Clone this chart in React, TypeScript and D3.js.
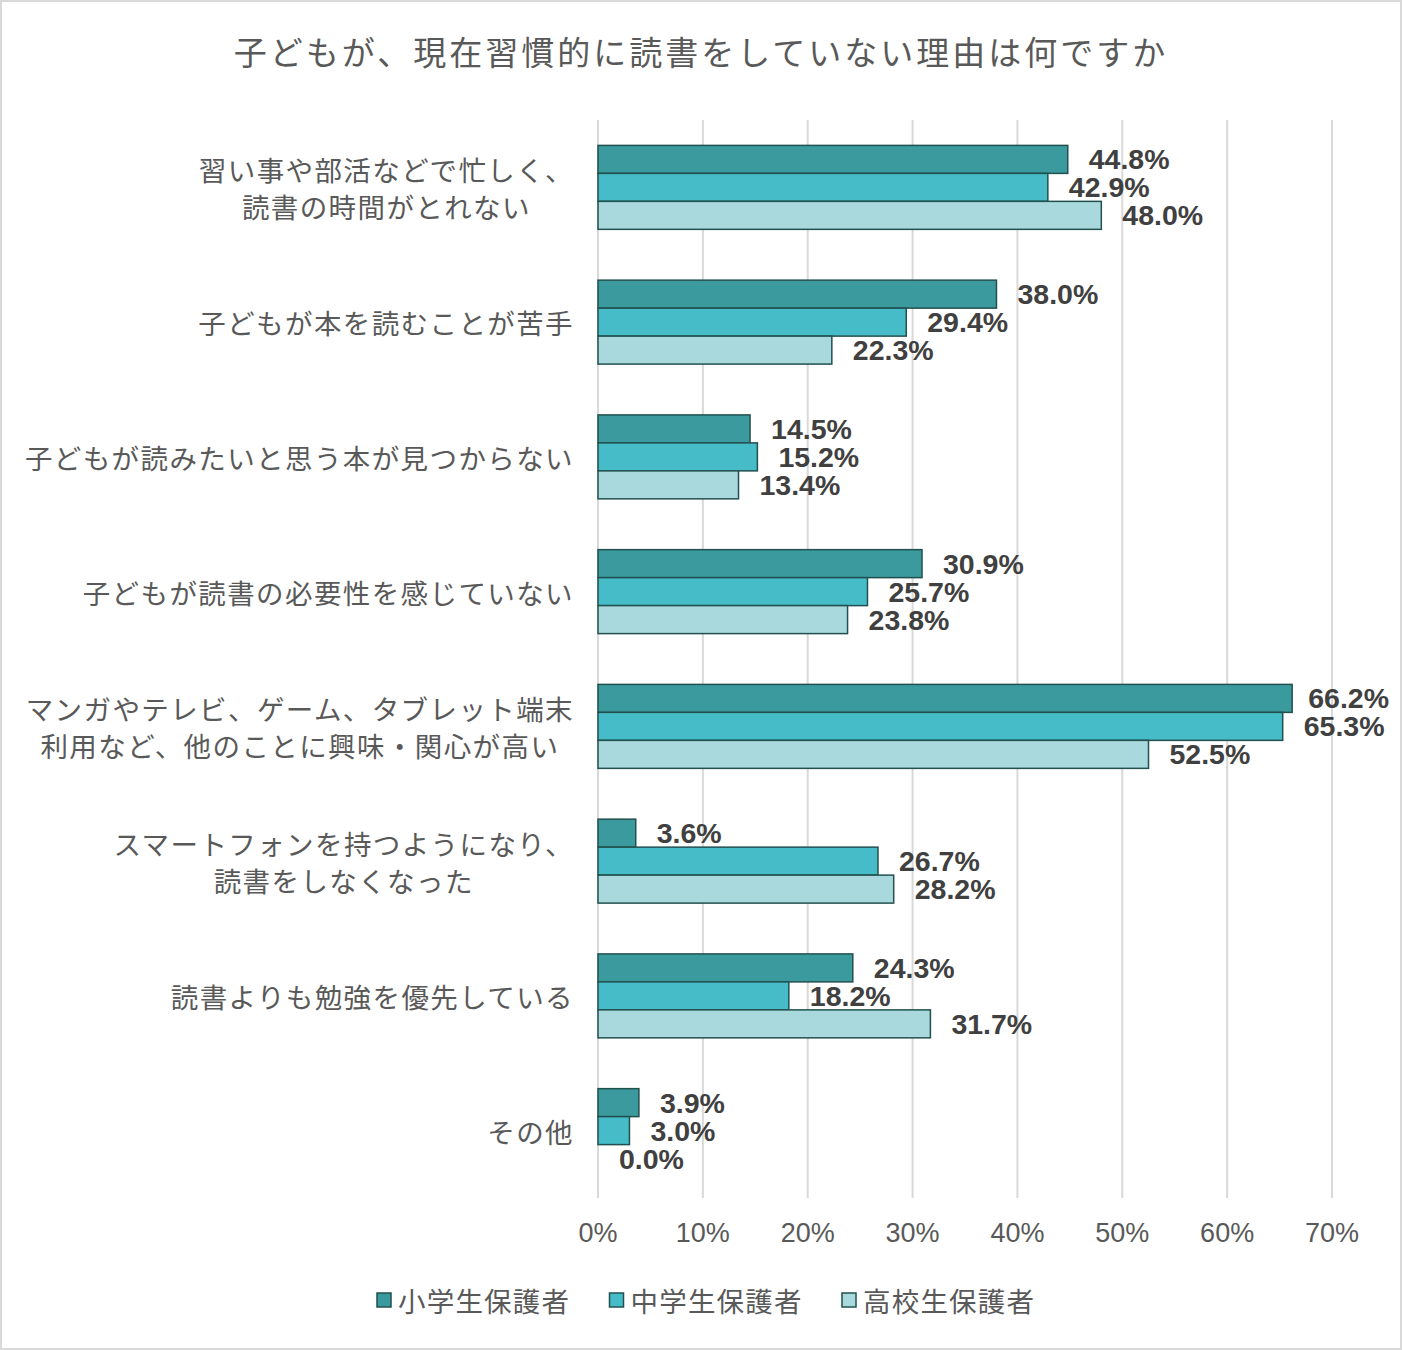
import { useEffect, useRef } from 'react';
import * as d3 from 'd3';

const title = '子どもが、現在習慣的に読書をしていない理由は何ですか';

const categories = [
  '習い事や部活などで忙しく、\n読書の時間がとれない',
  '子どもが本を読むことが苦手',
  '子どもが読みたいと思う本が見つからない',
  '子どもが読書の必要性を感じていない',
  'マンガやテレビ、ゲーム、タブレット端末\n利用など、他のことに興味・関心が高い',
  'スマートフォンを持つようになり、\n読書をしなくなった',
  '読書よりも勉強を優先している',
  'その他',
];

const seriesNames = ['小学生保護者', '中学生保護者', '高校生保護者'];
const elementary = [44.8, 38.0, 14.5, 30.9, 66.2, 3.6, 24.3, 3.9];
const juniorHigh = [42.9, 29.4, 15.2, 25.7, 65.3, 26.7, 18.2, 3.0];
const highSchool = [48.0, 22.3, 13.4, 23.8, 52.5, 28.2, 31.7, 0.0];
const xTicks = [0, 10, 20, 30, 40, 50, 60, 70];

const colors = ['#3a9a9e', '#45bcc7', '#a9d9dd'];

const W = 1402;
const H = 1350;
const JP = '"Noto Sans CJK JP", "Noto Sans", sans-serif';
const NUM = '"Liberation Sans", Arial, sans-serif';

export default function App() {
  const svgRef = useRef<SVGSVGElement>(null);

  useEffect(() => {
    if (!svgRef.current) return;
    const svg = d3.select(svgRef.current);
    svg.selectAll('*').remove();

    const margin = { top: 120, right: 70, bottom: 152, left: 598 };
    const innerW = W - margin.left - margin.right;
    const innerH = H - margin.top - margin.bottom;

    // frame
    svg
      .append('rect')
      .attr('x', 1)
      .attr('y', 1)
      .attr('width', W - 2)
      .attr('height', H - 2)
      .attr('fill', '#fff')
      .attr('stroke', '#d9d9d9')
      .attr('stroke-width', 2);

    svg
      .append('text')
      .attr('x', W / 2)
      .attr('y', 51)
      .attr('text-anchor', 'middle')
      .attr('dominant-baseline', 'central')
      .attr('font-family', JP)
      .attr('font-size', 33)
      .attr('letter-spacing', 3)
      .attr('fill', '#595959')
      .text(title);

    const g = svg.append('g').attr('transform', `translate(${margin.left},${margin.top})`);

    const x = d3.scaleLinear().domain([0, 70]).range([0, innerW]);
    const y = d3
      .scaleBand<number>()
      .domain(d3.range(categories.length))
      .range([0, innerH])
      .paddingInner(0.377)
      .paddingOuter(0.1885);
    const sub = d3.scaleBand<number>().domain([0, 1, 2]).range([0, y.bandwidth()]);

    // grid
    g.append('g')
      .selectAll('line')
      .data(xTicks)
      .join('line')
      .attr('x1', (d) => x(d))
      .attr('x2', (d) => x(d))
      .attr('y1', 0)
      .attr('y2', innerH)
      .attr('stroke', '#d9d9d9')
      .attr('stroke-width', 2);

    // tick labels
    g.append('g')
      .selectAll('text')
      .data(xTicks)
      .join('text')
      .attr('x', (d) => x(d))
      .attr('y', innerH + 35)
      .attr('text-anchor', 'middle')
      .attr('dominant-baseline', 'central')
      .attr('font-family', NUM)
      .attr('font-size', 27)
      .attr('fill', '#595959')
      .text((d) => `${d}%`);

    const series = [elementary, juniorHigh, highSchool];
    const maxRight = W - 13 - margin.left;

    series.forEach((vals, si) => {
      const sg = g.append('g');
      sg.selectAll('rect')
        .data(vals)
        .join('rect')
        .attr('x', 0)
        .attr('y', (_, i) => (y(i) ?? 0) + (sub(si) ?? 0))
        .attr('width', (d) => x(d))
        .attr('height', sub.bandwidth())
        .attr('fill', colors[si])
        .attr('stroke', (d) => (d > 0 ? '#22504f' : 'none'))
        .attr('stroke-width', 1.5);

      sg.selectAll('text')
        .data(vals)
        .join('text')
        .attr('y', (_, i) => (y(i) ?? 0) + (sub(si) ?? 0) + sub.bandwidth() / 2)
        .attr('dominant-baseline', 'central')
        .attr('font-family', NUM)
        .attr('font-size', 28.5)
        .attr('font-weight', 'bold')
        .attr('fill', '#404040')
        .text((d) => `${d.toFixed(1)}%`)
        .each(function (d) {
          const el = this as SVGTextElement;
          const w = el.getComputedTextLength();
          el.setAttribute('x', String(Math.min(x(d) + 21, maxRight - w)));
        });
    });

    // category labels
    const lineH = 37;
    const rightEdge = 574 - margin.left;
    categories.forEach((cat, i) => {
      const lines = cat.split('\n');
      const cy = (y(i) ?? 0) + y.bandwidth() / 2;
      const t = g
        .append('text')
        .attr('text-anchor', 'middle')
        .attr('font-family', JP)
        .attr('font-size', 27.5)
        .attr('letter-spacing', 1.4)
        .attr('fill', '#595959');
      const spans = lines.map((ln, li) =>
        t
          .append('tspan')
          .attr('y', cy + (li - (lines.length - 1) / 2) * lineH)
          .attr('dominant-baseline', 'central')
          .text(ln)
      );
      const maxW = d3.max(spans, (s) => (s.node() as SVGTSpanElement).getComputedTextLength()) ?? 0;
      spans.forEach((s) => s.attr('x', rightEdge - maxW / 2));
    });

    // legend
    const legend = svg.append('g').attr('transform', `translate(377,1300)`);
    seriesNames.forEach((name, i) => {
      const lg = legend.append('g').attr('transform', `translate(${i * 232.5},0)`);
      lg.append('rect')
        .attr('x', 0)
        .attr('y', -7)
        .attr('width', 14)
        .attr('height', 14)
        .attr('fill', colors[i])
        .attr('stroke', '#22504f')
        .attr('stroke-width', 1.5);
      lg.append('text')
        .attr('x', 21)
        .attr('y', 0)
        .attr('dominant-baseline', 'central')
        .attr('font-family', JP)
        .attr('font-size', 27.5)
        .attr('letter-spacing', 1.2)
        .attr('fill', '#595959')
        .text(name);
    });
  }, []);

  return (
    <div style={{ position: 'absolute', left: 0, top: 0 }}>
      <svg ref={svgRef} width={W} height={H} style={{ display: 'block' }} />
    </div>
  );
}
